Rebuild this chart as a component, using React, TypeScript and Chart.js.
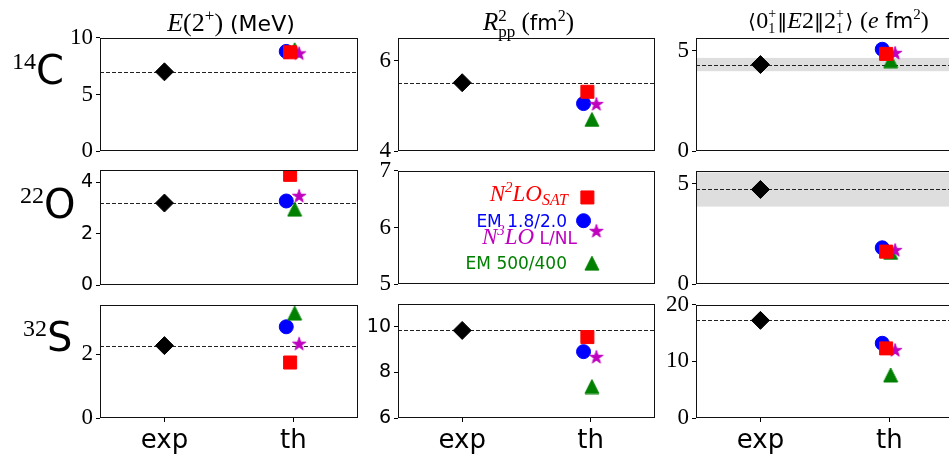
import React, { useEffect, useRef } from "react";
import { Chart, registerables } from "chart.js";
Chart.register(...registerables);

// ---------------- data ----------------
const categories = ["exp", "th"];
const massNumbers = ["14", "22", "32"];
const elements = ["C", "O", "S"];

// experiment (rows: 14C, 22O, 32S)
const expE2 = [7.0, 3.2, 2.27];
const expR2 = [5.51, null, 9.84];
const expME2 = [4.31, 4.71, 17.25];
const expME2Err = [0.33, 0.85, 0];

// theory: N2LO_SAT
const satE2 = [8.72, 4.3, 1.74];
const satR2 = [5.31, 6.53, 9.55];
const satME2 = [4.84, 1.62, 12.3];
// EM 1.8/2.0
const em18E2 = [8.8, 3.28, 2.86];
const em18R2 = [5.05, 6.12, 8.91];
const em18ME2 = [5.07, 1.81, 13.2];
// N3LO L/NL
const n3loE2 = [8.63, 3.48, 2.33];
const n3loR2 = [5.04, 5.94, 8.68];
const n3loME2 = [4.89, 1.7, 12.0];
// EM 500/400
const em500E2 = [8.95, 2.96, 3.29];
const em500R2 = [4.7, 5.37, 7.38];
const em500ME2 = [4.5, 1.58, 7.6];

// axes
const yMinE2 = [0, 0, 0];
const yMaxE2 = [10, 4.49, 3.55];
const yMinR2 = [4, 5, 6];
const yMaxR2 = [6.5, 7, 11];
const yMinME2 = [0, 0, 0];
const yMaxME2 = [5.64, 5.64, 20];
const ticksE2 = [[0, 5, 10], [0, 2, 4], [0, 2]];
const ticksR2 = [[4, 6], [5, 6, 7], [6, 8, 10]];
const ticksME2 = [[0, 5], [0, 5], [0, 10, 20]];
const serifE2 = [true, false, true];
const serifR2 = [true, true, false];
const serifME2 = [true, true, true];

// ---------------- layout / style ----------------
const SERIF = '"Liberation Serif", "DejaVu Serif", serif';
const SANS = '"DejaVu Sans", sans-serif';
const DJS = '"DejaVu Sans", "DejaVu Serif", sans-serif';
const COL_LEFT = [100, 398, 696];
const COL_W = [262, 261, 262];
const ROW_TOP = [37, 170, 304];
const ROW_H = [115, 115, 114];
const AX_W = 60, PAD_T = 16, PAD_B = 16, PAD_R = 6, XAX_H = 44;
const RED = "#ff0000", BLUE = "#0000ff", MAG = "#bf00bf", GREEN = "#008000";
const OFF_SAT = -0.025, OFF_EM18 = -0.055, OFF_N3LO = 0.045, OFF_EM500 = 0.01;

function starImg(color: string, R: number) {
  const s = Math.ceil(2 * R + 2);
  const c = document.createElement("canvas");
  c.width = s; c.height = s;
  const ctx = c.getContext("2d")!;
  const cx = s / 2, cy = s / 2 + 0.5, r = R * 0.381966;
  ctx.beginPath();
  for (let i = 0; i < 10; i++) {
    const a = -Math.PI / 2 + (i * Math.PI) / 5;
    const rr = i % 2 ? r : R;
    const px = cx + rr * Math.cos(a), py = cy + rr * Math.sin(a);
    if (i === 0) ctx.moveTo(px, py); else ctx.lineTo(px, py);
  }
  ctx.closePath();
  ctx.fillStyle = color; ctx.strokeStyle = color; ctx.lineWidth = 1;
  ctx.fill(); ctx.stroke();
  return c;
}

function triImg(color: string, m: number) {
  const s = m + 2;
  const c = document.createElement("canvas");
  c.width = s; c.height = s;
  const ctx = c.getContext("2d")!;
  ctx.beginPath();
  ctx.moveTo(s / 2, 1);
  ctx.lineTo(1, s - 1);
  ctx.lineTo(s - 1, s - 1);
  ctx.closePath();
  ctx.fillStyle = color; ctx.strokeStyle = color; ctx.lineWidth = 1;
  ctx.fill(); ctx.stroke();
  return c;
}

const decor = {
  id: "decor",
  beforeDatasetsDraw(chart: any, _a: any, opts: any) {
    if (!opts.show) return;
    const { ctx, chartArea: a } = chart;
    const y = chart.scales.y;
    ctx.save();
    ctx.beginPath();
    ctx.rect(a.left, a.top, a.right - a.left, a.bottom - a.top);
    ctx.clip();
    if (opts.err > 0) {
      const y1 = y.getPixelForValue(opts.ref + opts.err);
      const y2 = y.getPixelForValue(opts.ref - opts.err);
      ctx.fillStyle = "#dedede";
      ctx.fillRect(a.left, y1, a.right - a.left, y2 - y1);
    }
    const yy = Math.round(y.getPixelForValue(opts.ref)) + 0.5;
    ctx.strokeStyle = "#222";
    ctx.lineWidth = 1;
    ctx.setLineDash([4, 2]);
    ctx.beginPath();
    ctx.moveTo(a.left, yy);
    ctx.lineTo(a.right, yy);
    ctx.stroke();
    ctx.restore();
  },
  afterDatasetsDraw(chart: any) {
    const { ctx, chartArea: a } = chart;
    ctx.save();
    ctx.strokeStyle = "#111";
    ctx.lineWidth = 1;
    ctx.strokeRect(Math.round(a.left) + 0.5, Math.round(a.top) + 0.5, Math.round(a.right - a.left) - 1, Math.round(a.bottom - a.top) - 1);
    ctx.restore();
  },
};

type Spec = {
  row: number; col: number; ymin: number; ymax: number; ticks: number[]; serif: boolean;
  exp: number | null; err: number; sat: number; em18: number; n3lo: number; em500: number;
};

function buildSpecs(): Spec[] {
  const out: Spec[] = [];
  for (let r = 0; r < 3; r++) {
    out.push({ row: r, col: 0, ymin: yMinE2[r], ymax: yMaxE2[r], ticks: ticksE2[r], serif: serifE2[r], exp: expE2[r], err: 0, sat: satE2[r], em18: em18E2[r], n3lo: n3loE2[r], em500: em500E2[r] });
    out.push({ row: r, col: 1, ymin: yMinR2[r], ymax: yMaxR2[r], ticks: ticksR2[r], serif: serifR2[r], exp: expR2[r], err: 0, sat: satR2[r], em18: em18R2[r], n3lo: n3loR2[r], em500: em500R2[r] });
    out.push({ row: r, col: 2, ymin: yMinME2[r], ymax: yMaxME2[r], ticks: ticksME2[r], serif: serifME2[r], exp: expME2[r], err: expME2Err[r], sat: satME2[r], em18: em18ME2[r], n3lo: n3loME2[r], em500: em500ME2[r] });
  }
  return out;
}

function Panel({ s }: { s: Spec }) {
  const ref = useRef<HTMLCanvasElement>(null);
  const bottom = s.row === 2;
  const W = AX_W + COL_W[s.col] + PAD_R;
  const H = PAD_T + ROW_H[s.row] + (bottom ? XAX_H : PAD_B);
  useEffect(() => {
    const star = starImg(MAG, 7);
    const tri = triImg(GREEN, 14);
    const datasets: any[] = [
      { data: [{ x: 1 + OFF_SAT, y: s.sat }], pointStyle: "rect", pointRadius: 9.2, backgroundColor: RED, borderColor: RED, borderWidth: 1 },
      { data: [{ x: 1 + OFF_N3LO, y: s.n3lo }], pointStyle: star, pointRadius: 7, backgroundColor: MAG, borderColor: MAG },
      { data: [{ x: 1 + OFF_EM500, y: s.em500 }], pointStyle: tri, pointRadius: 7, backgroundColor: GREEN, borderColor: GREEN },
      { data: [{ x: 1 + OFF_EM18, y: s.em18 }], pointStyle: "circle", pointRadius: 7, backgroundColor: BLUE, borderColor: BLUE, borderWidth: 1 },
    ];
    if (s.exp != null) {
      datasets.push({ data: [{ x: 0, y: s.exp }], pointStyle: "rectRot", pointRadius: 9, backgroundColor: "#000", borderColor: "#000", borderWidth: 1 });
    }
    datasets.forEach((d) => { d.clip = 0; d.pointHoverRadius = d.pointRadius; });
    const tickFont = s.serif ? { family: SERIF, size: 23 } : { family: SANS, size: 19 };
    const chart = new Chart(ref.current!, {
      type: "scatter",
      data: { datasets },
      options: {
        animation: false,
        responsive: false,
        maintainAspectRatio: false,
        devicePixelRatio: 1,
        events: [],
        layout: { padding: { left: 0, right: PAD_R, top: PAD_T, bottom: bottom ? 0 : PAD_B } },
        plugins: {
          legend: { display: false },
          tooltip: { enabled: false },
          decor: { show: s.exp != null, ref: s.exp ?? 0, err: s.err },
        } as any,
        scales: {
          x: {
            type: "linear",
            min: -0.5,
            max: 1.5,
            display: bottom,
            afterBuildTicks: (sc: any) => { sc.ticks = [{ value: 0 }, { value: 1 }]; },
            afterFit: (sc: any) => { sc.height = bottom ? XAX_H : 0; },
            ticks: { color: "#000", padding: 4, maxRotation: 0, autoSkip: false, font: { family: SANS, size: 26 }, callback: (v: any) => categories[Number(v)] },
            grid: { display: true, drawOnChartArea: false, drawTicks: true, tickLength: 4, color: "#000", lineWidth: 1 },
            border: { display: false },
          },
          y: {
            type: "linear",
            min: s.ymin,
            max: s.ymax,
            afterBuildTicks: (sc: any) => { sc.ticks = s.ticks.map((v) => ({ value: v })); },
            afterFit: (sc: any) => { sc.width = AX_W; },
            ticks: { color: "#000", padding: 3, font: tickFont, callback: (v: any) => String(v) },
            grid: { display: true, drawOnChartArea: false, drawTicks: true, tickLength: 4, color: "#000", lineWidth: 1 },
            border: { display: false },
          },
        },
      } as any,
      plugins: [decor as any],
    });
    return () => chart.destroy();
  }, []);
  return (
    <canvas
      ref={ref}
      width={W}
      height={H}
      style={{ position: "absolute", left: COL_LEFT[s.col] - AX_W, top: ROW_TOP[s.row] - PAD_T, width: W, height: H }}
    />
  );
}

const sup = (fs: number, dy: number): React.CSSProperties => ({ fontSize: fs, position: "relative", top: dy });

function SS({ p, b, w, fs = 14, up = -21, dn = -6 }: { p: string; b: string; w: number; fs?: number; up?: number; dn?: number }) {
  return (
    <span style={{ display: "inline-block", position: "relative", width: w, height: 0 }}>
      <span style={{ position: "absolute", left: 0, top: up, fontSize: fs, lineHeight: 1 }}>{p}</span>
      <span style={{ position: "absolute", left: 0, top: dn, fontSize: fs, lineHeight: 1 }}>{b}</span>
    </span>
  );
}

// fixed-width glyph box (keeps fallback glyph widths under control)
function G({ c, w, fs = 20 }: { c: string; w: number; fs?: number }) {
  return (
    <span style={{ display: "inline-block", width: w, textAlign: "center", fontFamily: DJS, fontSize: fs, lineHeight: 1, overflow: "visible" }}>{c}</span>
  );
}

const txt = (left: number, top: number, extra: React.CSSProperties = {}): React.CSSProperties => ({
  position: "absolute", left, top, lineHeight: 1, whiteSpace: "nowrap", color: "#000", ...extra,
});

const titleBox = (col: number, base: number, fs: number, dx = 0): React.CSSProperties => ({
  position: "absolute", left: COL_LEFT[col] - 40 + dx, width: COL_W[col] + 80, top: base - Math.round(0.84 * fs),
  textAlign: "center", lineHeight: 1, whiteSpace: "nowrap", color: "#000", fontFamily: SERIF, fontSize: fs,
});

const rowLabelPos = [{ left: 12, base: 84 }, { left: 20, base: 218 }, { left: 23, base: 351 }];

export default function App() {
  const specs = buildSpecs();
  return (
    <div style={{ position: "absolute", left: 0, top: 0, width: 949, height: 460, overflow: "hidden", background: "#fff" }}>
      {specs.map((s) => <Panel key={`${s.row}-${s.col}`} s={s} />)}

      {/* column titles */}
      <div style={titleBox(0, 32, 26)}>
        <i>E</i>(2<span style={sup(17, -10)}>+</span>)
        <span style={{ fontFamily: SANS, fontSize: 22 }}> (MeV)</span>
      </div>
      <div style={titleBox(1, 30, 25)}>
        <i>R</i><SS p="2" b="pp" w={17} fs={17} up={-23} dn={-7} />
        <span> (</span>
        <span style={{ fontFamily: SANS, fontSize: 21 }}>fm</span>
        <span style={sup(16, -9)}>2</span>)
      </div>
      <div style={titleBox(2, 28, 24, 11)}>
        <G c="⟨" w={9} />0<SS p="+" b="1" w={9} fs={14} up={-21} dn={-6} />
        <G c="‖" w={10} /><i>E</i>2<G c="‖" w={10} />2
        <SS p="+" b="1" w={9} fs={14} up={-21} dn={-6} /><G c="⟩" w={9} /> (<i>e</i>
        <span style={{ fontFamily: SANS, fontSize: 21 }}> fm</span>
        <span style={sup(15, -9)}>2</span>)
      </div>

      {/* row labels */}
      {rowLabelPos.map((p, i) => (
        <div key={i} style={txt(p.left, p.base - 34, { fontFamily: SANS, fontSize: 40 })}>
          <span style={{ fontFamily: SERIF, fontSize: 24, position: "relative", top: -15 }}>{massNumbers[i]}</span>
          {elements[i]}
        </div>
      ))}

      {/* legend texts inside the R^2 panel of 22O */}
      <div style={txt(0, 201 - 19, { left: "auto", right: 949 - 568, fontFamily: SERIF, fontSize: 23, color: RED, fontStyle: "italic" })}>
        N<span style={sup(15, -9)}>2</span>LO<span style={sup(16, 4)}>SAT</span>
      </div>
      <div style={txt(0, 227 - 14, { left: "auto", right: 949 - 567, fontFamily: SANS, fontSize: 17, color: BLUE })}>
        EM 1.8/2.0
      </div>
      <div style={txt(0, 240 - 15, { left: "auto", right: 949 - 577, fontFamily: SANS, fontSize: 17, color: MAG })}>
        <span style={{ fontFamily: SERIF, fontStyle: "italic", fontSize: 23 }}>
          N<span style={sup(15, -9)}>3</span>LO
        </span>{" "}L/NL
      </div>
      <div style={txt(0, 269 - 14, { left: "auto", right: 949 - 567, fontFamily: SANS, fontSize: 17, color: GREEN })}>
        EM 500/400
      </div>
    </div>
  );
}
